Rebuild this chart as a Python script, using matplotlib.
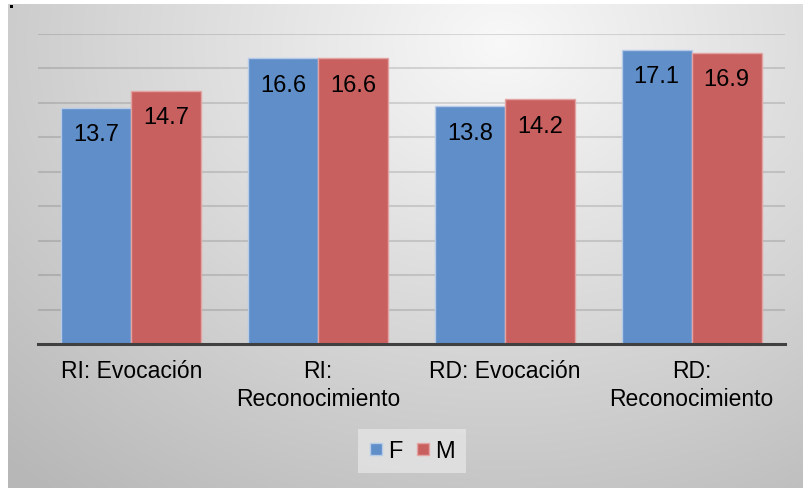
import numpy as np
import matplotlib
matplotlib.use("Agg")
import matplotlib.pyplot as plt
from matplotlib.lines import Line2D
from matplotlib.patches import Rectangle

categories = ["RI: Evocación", "RI:\nReconocimiento", "RD: Evocación", "RD:\nReconocimiento"]
series_names = ["F", "M"]
values_F = [13.7, 16.6, 13.8, 17.1]
values_M = [14.7, 16.6, 14.2, 16.9]

blue = "#5f8ec8"
red = "#c8605f"

plt.rcParams['font.family'] = ['Liberation Sans', 'DejaVu Sans']

W, H = 804, 489
fig = plt.figure(figsize=(W / 100, H / 100), dpi=100)
fig.patch.set_facecolor("white")

# background gradient panel
bg = fig.add_axes([8 / W, 0, (W - 8) / W, (H - 5) / H])
bg.set_axis_off()
ny, nx = 200, 400
yy, xx = np.mgrid[0:1:ny * 1j, 0:1:nx * 1j]
cx, cy = 0.62, 0.08
d = np.sqrt(((xx - cx) / 1.0) ** 2 + ((yy - cy) / 1.3) ** 2)
val = 0.975 - 0.28 * d
val = np.clip(val, 0.72, 0.975)
img = np.dstack([val, val, val])
bg.imshow(img, aspect="auto", extent=[0, 1, 1, 0], interpolation="bilinear")
bg.set_xlim(0, 1)
bg.set_ylim(1, 0)

# tiny black square top-left
fig.patches.append(Rectangle((10 / W, 1 - 9 / H), 3 / W, 3 / H, transform=fig.transFigure,
                             facecolor="black", edgecolor="none"))

ax = fig.add_axes([38 / W, (H - 345) / H, (785 - 38) / W, (345 - 35) / H])
ax.patch.set_alpha(0)
x = np.arange(len(categories))
bw = 0.375
bF = ax.bar(x - bw / 2, values_F, width=bw, color=blue, edgecolor="#b5cbe8", linewidth=1.0, zorder=3)
bM = ax.bar(x + bw / 2, values_M, width=bw, color=red, edgecolor="#e2a3a2", linewidth=1.0, zorder=3)

ax.set_ylim(0, 18)
ax.set_xlim(-0.5, len(categories) - 0.5)
ax.set_yticks(np.arange(2, 19, 2))
ax.yaxis.grid(True, color="black", alpha=0.12, linewidth=1.5, zorder=0)
ax.tick_params(axis="y", left=False, labelleft=False)
ax.tick_params(axis="x", bottom=False, labelsize=16.5, pad=7)
ax.set_xticks(x)
ax.set_xticklabels(categories, linespacing=1.3)
for s in ["top", "right", "left"]:
    ax.spines[s].set_visible(False)
ax.spines["bottom"].set_color("#404040")
ax.spines["bottom"].set_linewidth(2.2)
ax.spines["bottom"].set_zorder(4)

for bars, vals in ((bF, values_F), (bM, values_M)):
    for b, v in zip(bars, vals):
        ax.annotate(f"{v:.1f}", (b.get_x() + b.get_width() / 2, v), xytext=(0, -19),
                    textcoords="offset points", ha="center", va="center",
                    fontsize=17, color="black", zorder=5)

handles = [Line2D([], [], marker="s", linestyle="none", markersize=8, markerfacecolor=blue,
                  markeredgecolor="#b5cbe8"),
           Line2D([], [], marker="s", linestyle="none", markersize=8, markerfacecolor=red,
                  markeredgecolor="#e2a3a2")]
leg = fig.legend(handles, series_names, loc="center", bbox_to_anchor=(412 / W, 1 - 452 / H),
                 ncol=2, frameon=True, fontsize=17, handlelength=0.6, handletextpad=0.2,
                 columnspacing=0.6, borderpad=0.45, fancybox=False)
leg.get_frame().set_facecolor("#e4e4e4")
leg.get_frame().set_edgecolor("none")
leg.get_frame().set_alpha(0.8)

fig.savefig("out.png", dpi=100)
